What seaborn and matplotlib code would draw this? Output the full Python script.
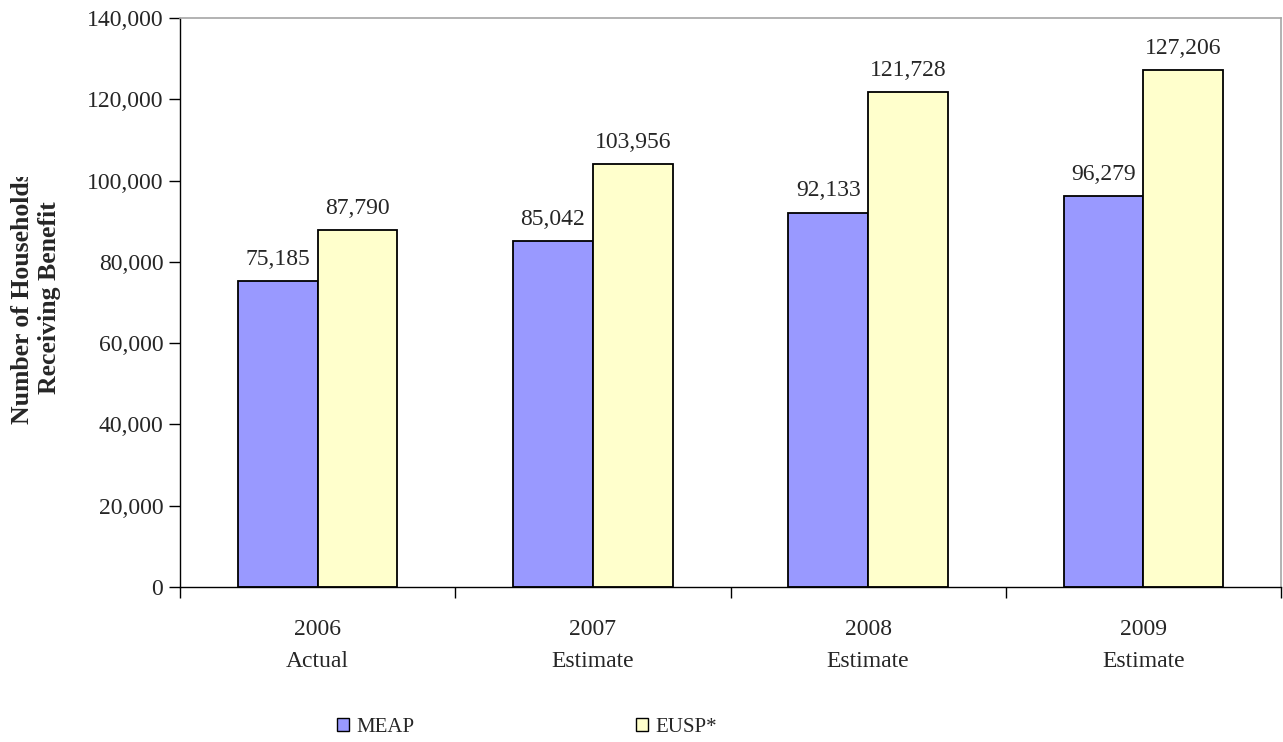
import matplotlib
matplotlib.use("Agg")
import matplotlib.pyplot as plt
from matplotlib.patches import Rectangle, Patch
from matplotlib.ticker import FuncFormatter
import seaborn as sns
import pandas as pd

years = ["2006\nActual", "2007\nEstimate", "2008\nEstimate", "2009\nEstimate"]
meap = [75185, 85042, 92133, 96279]
eusp = [87790, 103956, 121728, 127206]
series_names = ["MEAP", "EUSP*"]
colors = ["#9999FF", "#FFFFCC"]

df = pd.DataFrame({
    "year": years * 2,
    "households": meap + eusp,
    "program": [series_names[0]] * len(years) + [series_names[1]] * len(years),
})

sns.set_style("white")
plt.rcParams["font.family"] = ["Liberation Serif", "DejaVu Serif"]
FS = 17

fig = plt.figure(figsize=(12.83, 7.42), dpi=100)
ax = fig.add_axes([180 / 1283, 1 - 587 / 742, 1101 / 1283, 569 / 742])

sns.barplot(data=df, x="year", y="households", hue="program",
            palette=colors, saturation=1, width=0.58, edgecolor="black",
            linewidth=1.3, ax=ax, legend=False)

for cont in ax.containers:
    ax.bar_label(cont, labels=[f"{v:,.0f}" for v in cont.datavalues],
                 padding=8, fontsize=FS)

ax.set_ylim(0, 140000)
ax.set_yticks(range(0, 140001, 20000))
ax.yaxis.set_major_formatter(FuncFormatter(lambda v, p: f"{v:,.0f}"))
ax.set_xlim(-0.5, len(years) - 0.5)
ax.set_xticks(list(range(len(years))))
ax.set_xticklabels(years, fontsize=FS, linespacing=1.7)
ax.tick_params(axis="x", length=0, pad=23)
ax.set_xticks([i - 0.5 for i in range(len(years) + 1)], minor=True)
ax.tick_params(axis="x", which="minor", length=8, direction="out", width=1, color="black")
ax.tick_params(axis="y", length=8, direction="out", width=1, color="black",
               labelsize=FS, pad=4)
ax.yaxis.set_ticks_position("left")
ax.xaxis.set_ticks_position("bottom")

for side in ["top", "right"]:
    ax.spines[side].set_color("#A6A6A6")
    ax.spines[side].set_linewidth(1.2)
for side in ["left", "bottom"]:
    ax.spines[side].set_color("black")
    ax.spines[side].set_linewidth(1)
ax.set_xlabel("")
ax.set_ylabel("")

# Two-line axis title on the left; the longer line is trimmed at the top of
# its layout box
ylab = fig.text(36 / 1283, 1 - 298 / 742, "Number of Households\nReceiving Benefit",
                rotation=90, ha="center", va="center", multialignment="center",
                fontsize=18.5, fontweight="bold", linespacing=1.2)
clip = Rectangle((0, 0), 1, 1 - 177 / 742, transform=fig.transFigure,
                 facecolor="none", edgecolor="none")
fig.add_artist(clip)
clip.set_visible(False)
ylab.set_clip_path(clip)

handles = [Patch(facecolor=c, edgecolor="black", linewidth=1) for c in colors]
fig.legend(handles, series_names, loc="center left", ncol=2,
           bbox_to_anchor=(318 / 1283, 1 - 727 / 742),
           frameon=False, fontsize=15, handlelength=0.6, handleheight=0.6,
           handletextpad=0.35, columnspacing=10.6)

fig.savefig("out.png", dpi=100)
